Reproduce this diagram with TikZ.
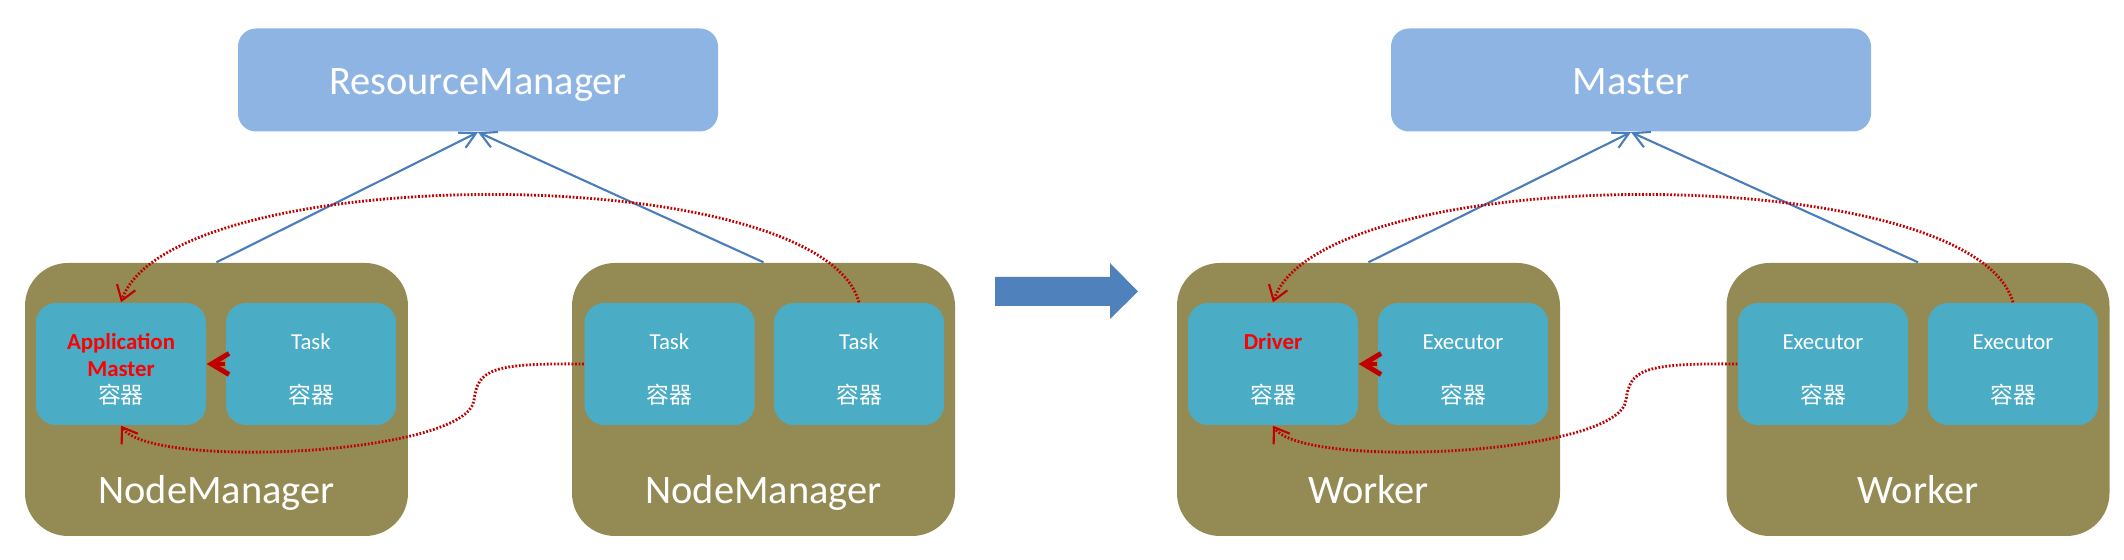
\documentclass[tikz,border=0pt]{standalone}
\usepackage{fontspec}
\usepackage{xcolor}
\usetikzlibrary{arrows.meta}
\setmainfont{Carlito}
\newfontfamily\cjk{Noto Sans CJK SC}
\newcommand\lift{\rule{0pt}{7.5pt}}
\definecolor{topblue}{RGB}{142,180,227}
\definecolor{nodeolive}{RGB}{148,138,84}
\definecolor{boxaqua}{RGB}{75,172,198}
\definecolor{linkblue}{RGB}{74,126,187}
\definecolor{bigblue}{RGB}{79,129,189}
\definecolor{msgred}{RGB}{192,0,0}
\definecolor{rolered}{RGB}{255,0,0}

\begin{document}
\begin{tikzpicture}[x=0.1mm,y=0.1mm,
    manager/.style={fill=topblue, rounded corners=1.8mm, minimum width=48mm, minimum height=10.3mm,
        text=white, font=\fontsize{11.5}{14}\selectfont, text height=10pt, text depth=1.8pt},
    machine/.style={fill=nodeolive, rounded corners=4.3mm, minimum width=38.3mm, minimum height=27.3mm},
    machinelabel/.style={text=white, font=\fontsize{11.5}{14}\selectfont, anchor=base, inner sep=0pt},
    container/.style={fill=boxaqua, rounded corners=2mm, minimum width=17mm, minimum height=12.2mm,
        text=white, align=center, font=\fontsize{6.5}{7.7}\selectfont},
    link/.style={linkblue, line width=0.6pt, -{Straight Barb[length=4.5pt,width=4.8pt]}},
    push/.style={msgred, line width=1.4pt, -{Straight Barb[length=5pt,width=6pt]}},
    msg/.style={msgred, line width=0.8pt, dash pattern=on 0.5pt off 0.5pt,
        -{Straight Barb[length=4pt,width=5.5pt,line width=0.6pt]}}]
    \useasboundingbox (0,0) rectangle (2124,560);

    \node[manager] (rm) at (478,480) {ResourceManager};
    \node[machine] (nm1) at (216.5,160.5) {};
    \node[machine] (nm2) at (763.5,160.5) {};
    \node[machinelabel] (nm1t) at ([yshift=3.3mm]nm1.south) {NodeManager};
    \node[machinelabel] (nm2t) at ([yshift=3.3mm]nm2.south) {NodeManager};
    \node[container] (am) at (121,196) {\lift\textcolor{rolered}{\bfseries Application}\\\textcolor{rolered}{\bfseries Master}\\{\cjk 容器}};
    \node[container] (tk) at (311,196) {\lift Task\\[7.7pt]{\cjk 容器}};
    \node[container] (t1) at (669.5,196) {\lift Task\\[7.7pt]{\cjk 容器}};
    \node[container] (t2) at (859,196) {\lift Task\\[7.7pt]{\cjk 容器}};

    \draw[link] (nm1.north) -- (rm.south);
    \draw[link] (nm2.north) -- (rm.south);
    \draw[push] (tk.west) -- (am.east);
    \draw[msg] (t2.north) .. controls (820,401) and (170,401) .. (am.north);
    \draw[msg] (t1.west) .. controls (490,197) and (478,190) .. (474,160) .. controls (468,105) and (150,90) .. (am.south);

    \fill[bigblue] (995,254) -- (1110,254) -- (1110,241) -- (1138,268.5) -- (1110,297) -- (1110,283) -- (995,283) -- cycle;

    \node[manager] (ms) at (1631,480) {Master};
    \node[machine] (wk1) at (1368.5,160.5) {};
    \node[machine] (wk2) at (1918,160.5) {};
    \node[machinelabel] (wk1t) at ([yshift=3.3mm]wk1.south) {Worker};
    \node[machinelabel] (wk2t) at ([yshift=3.3mm]wk2.south) {Worker};
    \node[container] (drv) at (1273,196) {\lift\textcolor{rolered}{\bfseries Driver}\\[7.7pt]{\cjk 容器}};
    \node[container] (ex) at (1463,196) {\lift Executor\\[7.7pt]{\cjk 容器}};
    \node[container] (e1) at (1823,196) {\lift Executor\\[7.7pt]{\cjk 容器}};
    \node[container] (e2) at (2013,196) {\lift Executor\\[7.7pt]{\cjk 容器}};

    \draw[link] (wk1.north) -- (ms.south);
    \draw[link] (wk2.north) -- (ms.south);
    \draw[push] (ex.west) -- (drv.east);
    \draw[msg] (e2.north) .. controls (1972,401) and (1322,401) .. (drv.north);
    \draw[msg] (e1.west) .. controls (1642,197) and (1630,190) .. (1626,160) .. controls (1620,105) and (1302,90) .. (drv.south);
\end{tikzpicture}
\end{document}
